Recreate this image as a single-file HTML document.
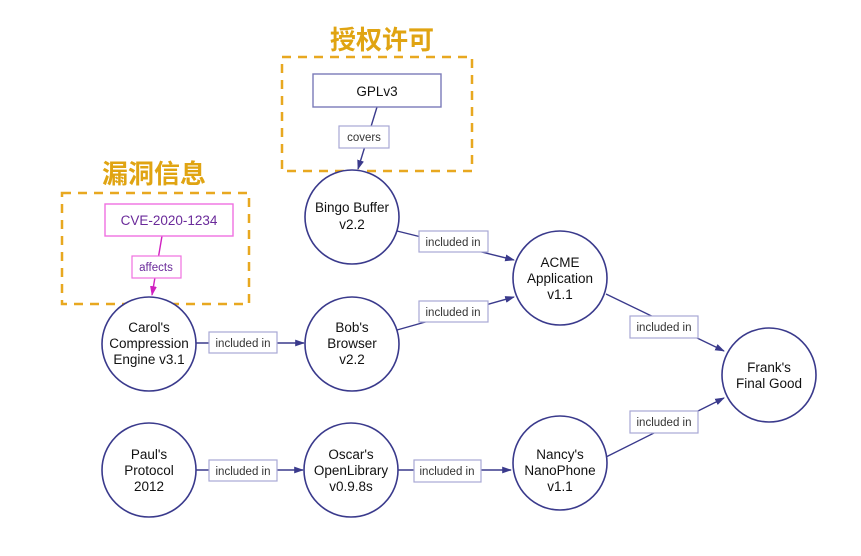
<!DOCTYPE html>
<html><head><meta charset="utf-8"><style>
html,body{margin:0;padding:0;background:#fff;}
svg{display:block;}
text{font-family:"Liberation Sans","Noto Sans CJK SC",sans-serif;}
.n{fill:#fff;stroke:#3a3a8c;stroke-width:1.6;}
.e{stroke:#3a3a8c;stroke-width:1.4;fill:none;}
.lb{fill:#fff;stroke:#a8a8d4;stroke-width:1.2;}
.nt{font-size:13.5px;fill:#111;text-anchor:middle;}
.lt{font-size:11.5px;fill:#333;text-anchor:middle;}
</style></head><body>
<svg width="861" height="556" viewBox="0 0 861 556" xmlns="http://www.w3.org/2000/svg">
<defs>
<marker id="a" viewBox="0 0 10 10" refX="9" refY="5" markerWidth="7" markerHeight="7" orient="auto"><path d="M0,1.5L10,5L0,8.5z" fill="#3a3a8c"/></marker>
<marker id="m" viewBox="0 0 10 10" refX="9" refY="5" markerWidth="7" markerHeight="7" orient="auto"><path d="M0,1.5L10,5L0,8.5z" fill="#d020c0"/></marker>
</defs>
<!-- group boxes -->
<rect x="282" y="57" width="190" height="114" fill="none" stroke="#e8a820" stroke-width="2.5" stroke-dasharray="9,7"/>
<rect x="62" y="193" width="187" height="111" fill="none" stroke="#e8a820" stroke-width="2.5" stroke-dasharray="9,7"/>
<text x="382" y="49" font-size="26" font-weight="bold" fill="#e0a412" text-anchor="middle">授权许可</text>
<text x="154" y="183" font-size="26" font-weight="bold" fill="#e0a412" text-anchor="middle">漏洞信息</text>
<!-- edges -->
<path class="e" d="M377,107 L358,169" marker-end="url(#a)"/>
<path d="M162,236 L152,295" stroke="#d020c0" stroke-width="1.4" fill="none" marker-end="url(#m)"/>
<path class="e" d="M397,231 L514,260" marker-end="url(#a)"/>
<path class="e" d="M397,330 L514,297" marker-end="url(#a)"/>
<path class="e" d="M196,343 L304,343" marker-end="url(#a)"/>
<path class="e" d="M606,294 L724,351" marker-end="url(#a)"/>
<path class="e" d="M606,457 L724,398" marker-end="url(#a)"/>
<path class="e" d="M196,470 L303,470" marker-end="url(#a)"/>
<path class="e" d="M398,470 L511,470" marker-end="url(#a)"/>
<!-- nodes -->
<rect x="313" y="74" width="128" height="33" fill="#fff" stroke="#7a7ab8" stroke-width="1.4"/>
<text class="nt" x="377" y="96">GPLv3</text>
<rect x="105" y="204" width="128" height="32" fill="#fff" stroke="#f070e0" stroke-width="1.4"/>
<text x="169" y="225" font-size="13.5" fill="#6a2a9a" text-anchor="middle">CVE-2020-1234</text>
<rect x="339" y="126" width="50" height="22" class="lb"/><text class="lt" x="364" y="141">covers</text>
<rect x="132" y="256" width="49" height="22" fill="#fff" stroke="#f070e0" stroke-width="1.2"/><text x="156" y="271" font-size="11.5" fill="#6a2a9a" text-anchor="middle">affects</text>

<circle class="n" cx="352" cy="217" r="47"/>
<text class="nt" x="352" y="212">Bingo Buffer</text><text class="nt" x="352" y="229">v2.2</text>
<circle class="n" cx="149" cy="344" r="47"/>
<text class="nt" x="149" y="332">Carol's</text><text class="nt" x="149" y="348">Compression</text><text class="nt" x="149" y="364">Engine v3.1</text>
<circle class="n" cx="352" cy="344" r="47"/>
<text class="nt" x="352" y="332">Bob's</text><text class="nt" x="352" y="348">Browser</text><text class="nt" x="352" y="364">v2.2</text>
<circle class="n" cx="560" cy="278" r="47"/>
<text class="nt" x="560" y="267">ACME</text><text class="nt" x="560" y="283">Application</text><text class="nt" x="560" y="299">v1.1</text>
<circle class="n" cx="769" cy="375" r="47"/>
<text class="nt" x="769" y="372">Frank's</text><text class="nt" x="769" y="388">Final Good</text>
<circle class="n" cx="560" cy="463" r="47"/>
<text class="nt" x="560" y="459">Nancy's</text><text class="nt" x="560" y="475">NanoPhone</text><text class="nt" x="560" y="491">v1.1</text>
<circle class="n" cx="149" cy="470" r="47"/>
<text class="nt" x="149" y="459">Paul's</text><text class="nt" x="149" y="475">Protocol</text><text class="nt" x="149" y="491">2012</text>
<circle class="n" cx="351" cy="470" r="47"/>
<text class="nt" x="351" y="459">Oscar's</text><text class="nt" x="351" y="475">OpenLibrary</text><text class="nt" x="351" y="491">v0.9.8s</text>
<!-- edge labels -->
<rect x="419" y="231" width="69" height="21" class="lb"/><text class="lt" x="453" y="246">included in</text>
<rect x="419" y="301" width="69" height="21" class="lb"/><text class="lt" x="453" y="316">included in</text>
<rect x="209" y="332" width="68" height="21" class="lb"/><text class="lt" x="243" y="347">included in</text>
<rect x="630" y="316" width="68" height="22" class="lb"/><text class="lt" x="664" y="331">included in</text>
<rect x="630" y="411" width="68" height="22" class="lb"/><text class="lt" x="664" y="426">included in</text>
<rect x="209" y="460" width="68" height="21" class="lb"/><text class="lt" x="243" y="475">included in</text>
<rect x="414" y="460" width="67" height="22" class="lb"/><text class="lt" x="447" y="475">included in</text>
</svg>
</body></html>
